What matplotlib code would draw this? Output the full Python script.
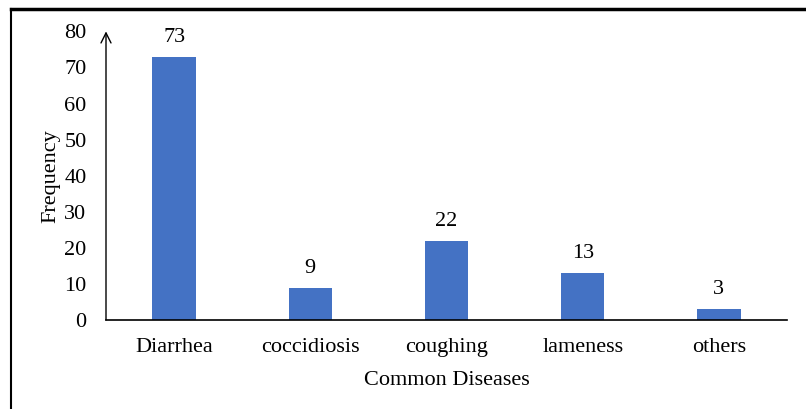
import matplotlib.pyplot as plt
from matplotlib.lines import Line2D

diseases = ['Diarrhea', 'coccidiosis', 'coughing', 'lameness', 'others']
frequency = [73, 9, 22, 13, 3]

plt.rcParams['font.family'] = ['Liberation Serif', 'DejaVu Serif']

fig = plt.figure(figsize=(8.06, 4.09), dpi=100)
ax = fig.add_axes([106 / 806, 1 - 320 / 409, 681 / 806, 288.6 / 409])

x = range(len(diseases))
bars = ax.bar(x, frequency, width=0.32, color='#4472C4', zorder=2)
for b, v in zip(bars, frequency):
    ax.text(b.get_x() + b.get_width() / 2, v + 2.7, str(v),
            ha='center', va='bottom', fontsize=16)

ax.set_xlim(-0.5, 4.5)
ax.set_ylim(0, 80)
ax.set_yticks(range(0, 81, 10))
ax.set_xticks(list(x))
ax.set_xticklabels(diseases)
ax.tick_params(axis='both', length=0, labelsize=16)
ax.tick_params(axis='x', pad=13)
ax.tick_params(axis='y', pad=14)

for s in ['top', 'right', 'left']:
    ax.spines[s].set_visible(False)
ax.spines['bottom'].set_linewidth(1.2)
ax.spines['bottom'].set_zorder(3)

# y axis drawn as an arrow
ax.annotate('', xy=(0, 1.0), xycoords='axes fraction', xytext=(0, 0),
            textcoords='axes fraction',
            arrowprops=dict(arrowstyle='->', lw=1.0, color='black',
                            mutation_scale=18, shrinkA=0, shrinkB=0))

ax.set_ylabel('Frequency', fontsize=16, labelpad=3)
ax.set_xlabel('Common Diseases', fontsize=16, labelpad=10)

# outer frame (top and left edges)
fig.add_artist(Line2D([11 / 806, 1], [1 - 9 / 409, 1 - 9 / 409],
                      transform=fig.transFigure, color='black', lw=2.5))
fig.add_artist(Line2D([11 / 806, 11 / 806], [0, 1 - 9 / 409],
                      transform=fig.transFigure, color='black', lw=1.5))

fig.savefig('out.png', dpi=100)
